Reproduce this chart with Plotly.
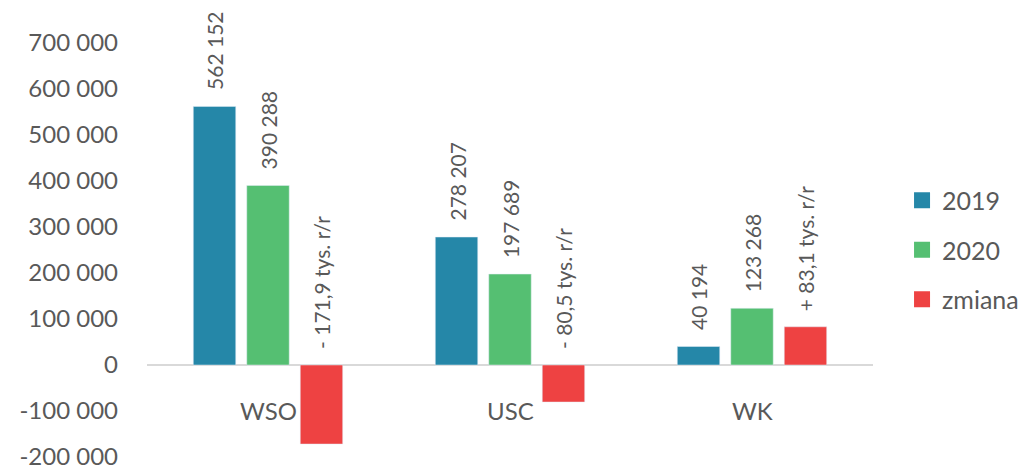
import plotly.graph_objects as go

categories = ["WSO", "USC", "WK"]
series_names = ["2019", "2020", "zmiana"]
values_2019 = [562152, 278207, 40194]
values_2020 = [390288, 197689, 123268]
values_change = [-171864, -80518, 83074]
labels_2019 = ["562 152", "278 207", "40 194"]
labels_2020 = ["390 288", "197 689", "123 268"]
labels_change = ["- 171,9 tys. r/r", "- 80,5 tys. r/r", "+ 83,1 tys. r/r"]
tick_vals = [-200000, -100000, 0, 100000, 200000, 300000, 400000, 500000, 600000, 700000]
tick_text = ["-200 000", "-100 000", "0", "100 000", "200 000", "300 000",
             "400 000", "500 000", "600 000", "700 000"]

colors = ["#2587A8", "#55BF72", "#EE4242"]
FONT = "Lato, 'Open Sans', sans-serif"
TXT = "#595959"
BARGAP = 0.337
BARGROUPGAP = 0.206

x_idx = list(range(len(categories)))
all_vals = [values_2019, values_2020, values_change]
all_labels = [labels_2019, labels_2020, labels_change]

fig = go.Figure()
for i, (name, vals) in enumerate(zip(series_names, all_vals)):
    fig.add_trace(go.Bar(
        x=x_idx, y=vals, name=name, marker_color=colors[i],
        showlegend=False, hoverinfo="skip",
    ))
# legend entries with larger square swatches
for i, name in enumerate(series_names):
    fig.add_trace(go.Scatter(
        x=[None], y=[None], mode="markers", name=name, legendgroup=name,
        marker=dict(symbol="square", size=16, color=colors[i]),
    ))

slot = (1 - BARGAP) / len(series_names)
annotations = []
for i, (vals, labs) in enumerate(zip(all_vals, all_labels)):
    off = (i - 1) * slot
    for j, (v, t) in enumerate(zip(vals, labs)):
        annotations.append(dict(
            x=j + off, y=max(v, 0), xref="x", yref="y", text=t, showarrow=False,
            textangle=-90, yanchor="bottom", xanchor="center", yshift=14,
            font=dict(family=FONT, size=21, color=TXT),
        ))
for j, c in enumerate(categories):
    annotations.append(dict(
        x=j, y=0, xref="x", yref="y", text=c, showarrow=False,
        yanchor="top", xanchor="center", yshift=-29,
        font=dict(family=FONT, size=24, color=TXT),
    ))

fig.update_layout(
    width=1026, height=468,
    margin=dict(l=139, r=161, t=35, b=19, autoexpand=False),
    paper_bgcolor="white", plot_bgcolor="white",
    barmode="group", bargap=BARGAP, bargroupgap=BARGROUPGAP,
    showlegend=True,
    legend=dict(x=1.04, y=0.5, xanchor="left", yanchor="middle",
                font=dict(family=FONT, size=25, color=TXT),
                tracegroupgap=14, traceorder="grouped", itemwidth=30),
    annotations=annotations,
    font=dict(family=FONT, color=TXT),
)
fig.update_xaxes(range=[-0.5, len(categories) - 0.5], showticklabels=False,
                 showgrid=False, zeroline=False, showline=False, fixedrange=True,
                 automargin=False)
fig.update_yaxes(range=[-200000, 700000], tickvals=tick_vals, ticktext=tick_text,
                 showgrid=False, zeroline=True, zerolinecolor="#D9D9D9", zerolinewidth=2,
                 showline=False, ticks="", ticklabelstandoff=28, automargin=False,
                 ticklabeloverflow="allow",
                 tickfont=dict(family=FONT, size=24, color=TXT))

fig.write_html("out.html")
